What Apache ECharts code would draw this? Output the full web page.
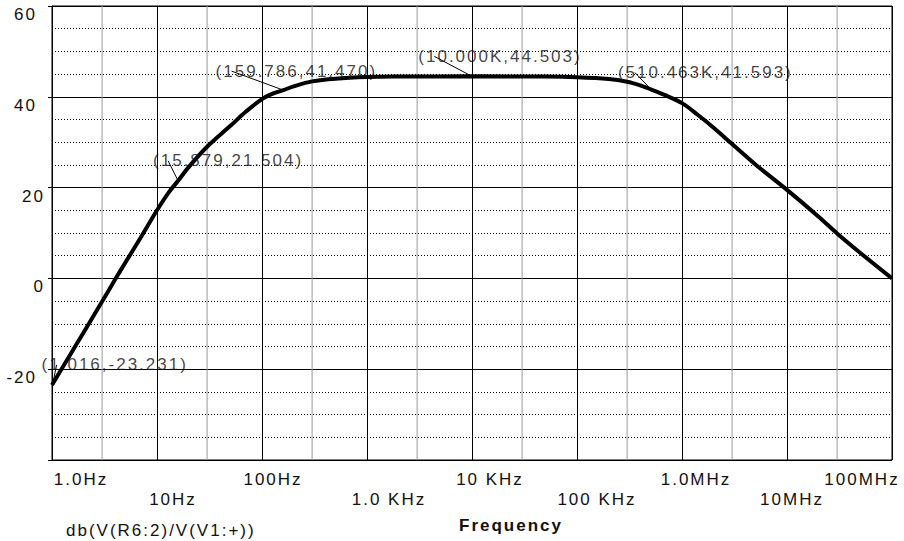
<!DOCTYPE html>
<html>
<head>
<meta charset="utf-8">
<script src="https://cdn.jsdelivr.net/npm/echarts@6/dist/echarts.min.js"></script>
<style>
html, body { margin: 0; padding: 0; background: #fff; }
#chart { width: 904px; height: 541px; }
/* the plot text is spread out wide */
#chart text { letter-spacing: 2px; }
</style>
</head>
<body>
<div id="chart"></div>
<script>
// gain curve (Hz, dB)
var freq = [1, 1.5, 2, 3, 4, 5, 7, 10, 13, 15.879, 20, 30, 50, 70, 100, 130, 159.786, 200, 300, 500,
	1000, 2000, 10000, 50000, 100000, 200000, 300000, 400000, 510463, 700000,
	1e6, 1.4e6, 2e6, 3e6, 5e6, 1e7, 2e7, 3e7, 5e7, 1e8];
var gainDb = [-23.5, -16.7, -11.9, -5.1, -0.2, 3.5, 9.0, 15, 19, 21.504, 24.5, 29.0, 33.6, 36.7, 39.5, 40.8, 41.47, 42.3, 43.4, 44.0,
	44.35, 44.45, 44.503, 44.45, 44.3, 43.9, 43.3, 42.5, 41.593, 40.3,
	38.6, 36.1, 33.2, 29.6, 25.1, 19.5, 13.6, 9.9, 5.6, 0];

// probe cursors
var cursorFreq = [1.016, 15.879, 159.786, 10000, 510463];
var cursorDb = [-23.231, 21.504, 41.470, 44.503, 41.593];

// axes
var yMin = -40, yMax = 60, yStep = 20;
var tickFreq = [1, 10, 100, 1000, 1e4, 1e5, 1e6, 1e7, 1e8];
var tickText = ['1.0Hz', '10Hz', '100Hz', '1.0 KHz', '10 KHz', '100 KHz', '1.0MHz', '10MHz', '100MHz'];
var minorFreq = [3, 30, 300, 3000, 3e4, 3e5, 3e6, 3e7];
var traceName = 'db(V(R6:2)/V(V1:+))';

// layout tweaks (px)
var tickRow = [0, 1, 0, 1, 0, 1, 0, 1, 0];
var tickShift = [29, 16, 11, 22, 18, 20, 14, 5, -30];
var cursorShift = [[62, -19], [50, -20], [13, -19], [28, -20], [54, -17]];

var FONT = '"Liberation Sans", Arial, sans-serif';

function fmtCursor(f, d) {
	var fs = f >= 1000 ? (f / 1000).toFixed(3) + 'K' : f.toFixed(3);
	return '(' + fs + ',' + d.toFixed(3) + ')';
}

var xRich = {};
tickText.forEach(function (t, i) {
	var dx = tickShift[i];
	xRich['t' + i] = {
		fontFamily: FONT, fontSize: 17, color: '#111',
		padding: [tickRow[i] ? 20 : 0, dx < 0 ? -2 * dx : 0, 0, dx > 0 ? 2 * dx : 0]
	};
});

// light vertical grid at 3x each decade (broken between lines)
var minorGrid = [];
minorFreq.forEach(function (f) {
	minorGrid.push([f, yMin], [f, yMax], [f, '-']);
});

var chart = echarts.init(document.getElementById('chart'), null, {renderer: 'svg'});

chart.setOption({
	animation: false,
	backgroundColor: '#fff',
	textStyle: {fontFamily: FONT},
	grid: {left: 52, right: 12, top: 6, bottom: 81, show: true, borderColor: '#000', borderWidth: 1, outerBoundsMode: 'none'},
	legend: {
		data: [traceName], left: 56, top: 517, icon: 'none', itemWidth: 0, itemHeight: 0,
		selectedMode: false,
		textStyle: {fontFamily: FONT, fontSize: 17, color: '#111'}
	},
	xAxis: {
		type: 'log', logBase: 10, min: tickFreq[0], max: tickFreq[tickFreq.length - 1], splitNumber: 8,
		name: 'Frequency', nameLocation: 'middle', nameGap: 57,
		nameTextStyle: {fontFamily: FONT, fontSize: 17, fontWeight: 'bold', color: '#111', padding: [0, 0, 0, 78]},
		axisLine: {lineStyle: {color: '#000', width: 1}},
		axisTick: {length: 5, lineStyle: {color: '#000'}},
		splitLine: {show: true, lineStyle: {color: '#000', width: 1}},
		axisLabel: {
			showMinLabel: true, showMaxLabel: true, hideOverlap: false,
			margin: 11, verticalAlign: 'top',
			formatter: function (v) {
				for (var i = 0; i < tickFreq.length; i++) {
					if (Math.abs(Math.log10(v) - Math.log10(tickFreq[i])) < 1e-6) {
						return '{t' + i + '|' + tickText[i] + '}';
					}
				}
				return '';
			},
			rich: xRich
		}
	},
	yAxis: {
		type: 'value', min: yMin, max: yMax, interval: yStep,
		axisLine: {lineStyle: {color: '#000', width: 1}},
		axisTick: {show: true, length: 4, lineStyle: {color: '#000'}},
		splitLine: {show: true, lineStyle: {color: '#000', width: 1}},
		minorTick: {show: false, splitNumber: 4},
		minorSplitLine: {show: true, lineStyle: {color: '#000', width: 1, type: [1, 2]}},
		axisLabel: {
			margin: 7, verticalAlign: 'top',
			formatter: function (v) {
				if (v === yMin) return '';
				return (v === 20 || v === 0) ? '{n|' + v + '}' : '{w|' + v + '}';
			},
			rich: {
				n: {fontFamily: FONT, fontSize: 17, color: '#111'},
				w: {fontFamily: FONT, fontSize: 17, color: '#111', padding: [0, 8, 0, 0]}
			}
		}
	},
	series: [
		{
			type: 'line', z: 2, showSymbol: false,
			data: minorGrid,
			lineStyle: {color: '#9a9a9a', width: 1}
		},
		{
			name: traceName, type: 'line', z: 3,
			data: freq.map(function (f, i) { return [f, gainDb[i]]; }),
			showSymbol: false, smooth: 0.35,
			lineStyle: {color: '#000', width: 4},
			itemStyle: {color: '#000'}
		},
		{
			type: 'scatter', z: 4, silent: true, symbolSize: 0,
			data: cursorFreq.map(function (f, i) { return [f, cursorDb[i]]; }),
			label: {
				show: true, position: 'inside', fontFamily: FONT, fontSize: 17, color: '#111',
				formatter: function (p) { return fmtCursor(p.value[0], p.value[1]); }
			},
			labelLayout: function (p) {
				var s = cursorShift[p.dataIndex];
				return {dx: s[0], dy: s[1]};
			},
			labelLine: {show: true, lineStyle: {color: '#000', width: 1}}
		}
	]
});
</script>
</body>
</html>
